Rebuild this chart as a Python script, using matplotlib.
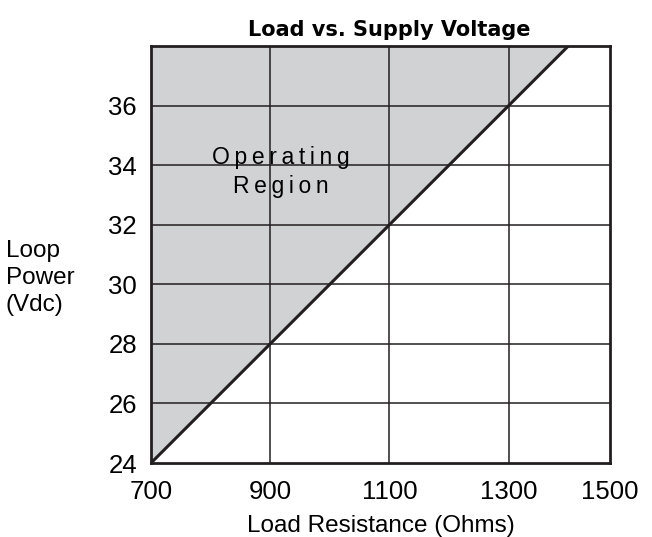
import matplotlib.pyplot as plt

plt.rcParams['font.family'] = ['Liberation Sans', 'DejaVu Sans']

# boundary line: load resistance (ohms) vs loop power (Vdc)
resistance = [700, 1400]
voltage = [24, 38]

x_ticks = [700, 900, 1100, 1300, 1470]
x_labels = ['700', '900', '1100', '1300', '1500']
y_ticks = [24, 26, 28, 30, 32, 34, 36]

fig = plt.figure(figsize=(6.52, 5.37), dpi=100)
ax = fig.add_axes([0.2316, 0.1378, 0.704, 0.7765])

ax.set_xlim(700, 1470)
ax.set_ylim(24, 38)

# shaded operating region above the line
ax.fill_between(resistance, voltage, 38, color='#d1d2d4', zorder=1, linewidth=0)
ax.plot(resistance, voltage, color='#231f20', linewidth=2.2, zorder=3)

for x in [900, 1100, 1300]:
    ax.axvline(x, color='#231f20', linewidth=1.1, zorder=2)
for y in y_ticks[1:]:
    ax.axhline(y, color='#231f20', linewidth=1.1, zorder=2)

for s in ax.spines.values():
    s.set_linewidth(2)
    s.set_color('#231f20')
    s.set_zorder(4)

ax.set_xticks(x_ticks)
ax.set_xticklabels(x_labels)
ax.set_yticks(y_ticks)
ax.tick_params(length=0, labelsize=18.5, pad=10)
ax.tick_params(axis='x', pad=12)

ax.set_xlabel('Load Resistance (Ohms)', fontsize=17.5, labelpad=8)
ax.set_title('Load vs. Supply Voltage', fontsize=15, fontweight='bold',
             family='DejaVu Sans', pad=7, x=0.52)

fig.text(0.009, 0.483, 'Loop\nPower\n(Vdc)', fontsize=17.5, ha='left', va='center',
         linespacing=1.3)

ts = '\u2009'
ax.text(918, 34.25, ts.join('Operating'), fontsize=16.5, ha='center', va='center', zorder=5)
ax.text(918, 33.3, ts.join('Region'), fontsize=16.5, ha='center', va='center', zorder=5)

fig.savefig('out.png', dpi=100)
